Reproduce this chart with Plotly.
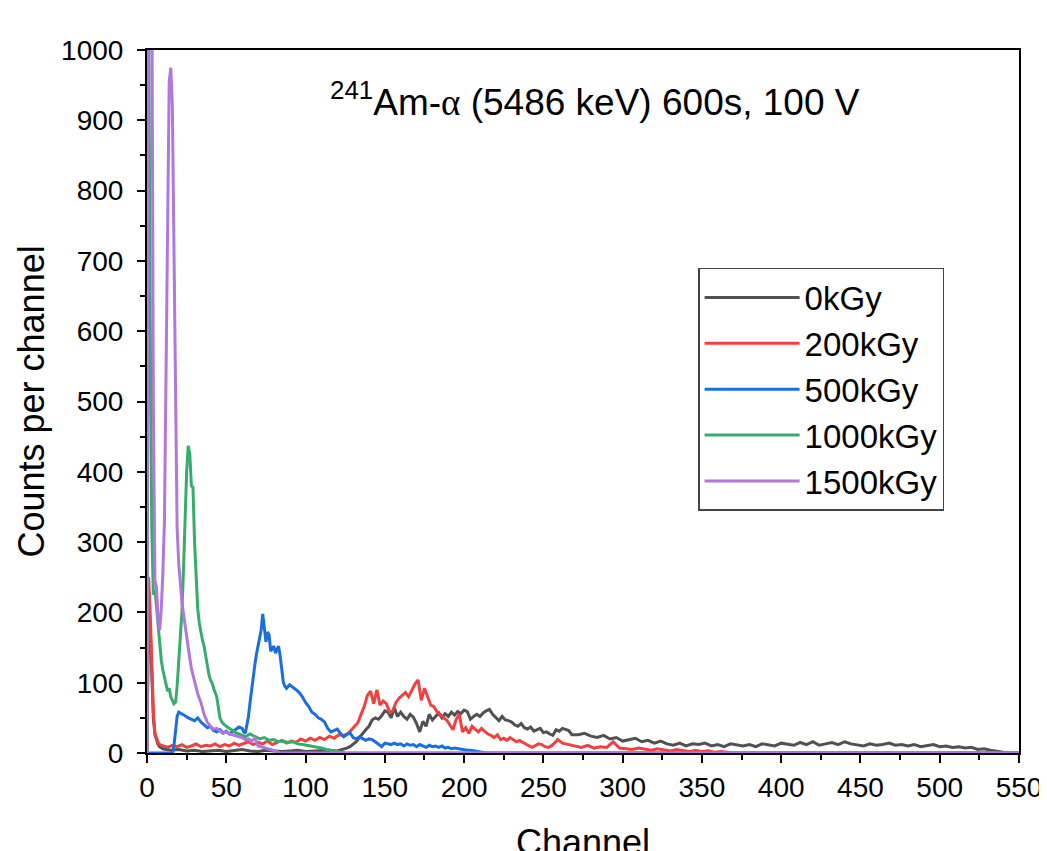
import plotly.graph_objects as go

# ---------------- data (channel segments: start, step, values) ----------------
gray_a = [0, 220, 180, 100, 50, 26, 17, 12, 9, 7]                       # ch 0..9
gray_b = [6, 4, 5, 3, 4, 2, 3, 4, 2, 3, 5, 3, 2, 4, 3, 2, 3, 4, 2, 3, 3, 4]  # ch 10..115 step 5
gray_c = [3, 4, 5, 7, 9, 12, 16, 22, 28, 33, 38, 47, 50, 48, 53, 60, 58, 50, 64, 52,
          58, 52, 48, 55, 51, 42, 30, 45, 38, 55, 47, 52, 57, 50, 56, 52, 58, 54, 59, 56,
          61, 59, 48, 52, 55, 52, 57, 60, 62, 55, 50, 46, 52, 47, 46, 44, 40, 38, 42, 36,
          34, 37, 31, 33, 35, 29, 30, 27, 25, 33, 31, 35, 34, 32, 26]      # ch 120.. step 2
gray_d = [26, 28, 24, 22, 25, 20, 22, 17, 19, 21, 16, 18, 14, 17, 13, 11, 14, 10, 13, 12,
          14, 10, 12, 9, 13, 11, 10, 12, 9, 13, 11, 10, 14, 12, 11, 15, 12, 16, 11, 13,
          15, 12, 16, 13, 11, 10, 13, 11, 12, 14, 11, 12, 10, 12, 9, 11, 12, 9, 10, 8,
          9, 7, 8, 5, 6, 4, 2, 1, 0, 0]                                   # ch 272.. step 4

red_a = [0, 250, 200, 120, 60, 28, 20, 15, 12, 11]                        # ch 0..9
red_b = [10, 8, 11, 9, 12, 8, 10, 13, 9, 11, 10, 13, 9, 12, 10, 14, 11, 13, 16, 12,
         15, 13, 17, 12, 15, 18, 14, 17, 15, 20, 17, 21, 18, 22, 19, 24, 21, 26, 25]  # ch 10.. step 3
red_c = [28, 33, 38, 43, 55, 66, 82, 88, 70, 90, 68, 74, 70, 58, 60, 72, 78, 82, 86, 80,
         90, 98, 104, 75, 92, 80, 68, 66, 58, 55, 50, 47, 40, 33, 48, 55, 30, 36, 28, 38,
         34, 30, 35, 31, 27, 25, 22, 26, 19, 21, 18, 22, 19, 16, 18, 15, 12, 10, 8, 11,
         13, 12, 9, 8, 10, 14, 19]                                        # ch 127.. step 2
red_d = [14, 12, 10, 8, 11, 7, 9, 8, 16, 7, 6, 5, 7, 5, 4, 6, 4, 3, 5, 3,
         2, 4, 2, 3, 1, 2, 1, 0]                                          # ch 262.. step 4

blue_a = [0, 0, 0]                                                        # ch 0, 8, 16
blue_b = [10, 35, 52, 58]                                                 # ch 17..20
blue_c = [56, 53, 50, 48, 46, 50, 44, 40, 36, 38, 32, 30, 33, 28, 31, 27, 30, 33, 37, 35]  # ch 22..60 step 2
blue_d = [30, 28, 38, 52, 72, 92, 110, 125, 140, 152, 160, 175, 198, 180, 158, 172, 168,
          145, 148, 152, 142, 146, 152, 138, 115, 100, 95]                # ch 61..87
blue_e = [92, 97, 94, 90, 86, 80, 72, 66, 58, 55, 50, 48, 44, 35, 30, 32, 34, 28, 23, 26,
          29, 22, 20, 23, 21, 18, 20, 19, 16, 12, 9, 14, 13, 12, 14, 12, 13, 10, 13, 11,
          12, 9, 12, 10, 8, 11, 9, 10, 8, 10, 7, 8, 6, 7, 6, 5, 5, 4, 4, 3,
          2, 1, 1, 0, 0]                                                  # ch 88.. step 2

green_a = [0, 1100, 620, 320, 225, 232, 208, 178, 150, 132, 118, 106, 98, 88, 92, 80,
           74, 70, 72, 95, 130, 170, 200, 260, 330, 400, 437, 425, 380, 378, 300, 240,
           205, 185, 170, 160, 152, 138, 125, 112, 104, 100, 92, 85, 80, 65, 50, 45, 42]  # ch 0..48
green_b = [38, 33, 29, 26, 23, 27, 24, 20, 22, 18, 19, 16, 17, 15, 16, 13, 12, 11, 10, 8,
           7, 5, 4, 2, 1, 0]                                              # ch 50.. step 3

purple_a = [0, 1600, 1800, 1200, 500, 245, 235, 190, 175, 205, 255, 330, 520, 790, 955,
            975, 920, 720, 480, 320, 270, 240, 215, 198, 180]             # ch 0..24
purple_b = [150, 120, 100, 84, 72, 55, 44, 38, 34, 35, 31, 28, 30, 27, 26, 24, 23, 22, 19,
            20, 17, 21, 10, 9, 7, 6, 5, 4, 2, 0]                          # ch 26.. step 2

end_channel = 550

series_names = ["0kGy", "200kGy", "500kGy", "1000kGy", "1500kGy"]
series_colors = ["#515151", "#F14040", "#1A6FDF", "#37AD6B", "#B177DE"]


def build(segments, tail=True):
    xs, ys = [], []
    for start, step, vals in segments:
        for i, v in enumerate(vals):
            xs.append(start + step * i)
            ys.append(v)
    if tail and xs[-1] < end_channel:
        xs.append(end_channel)
        ys.append(0)
    return xs, ys


series = [
    build([(0, 1, gray_a), (10, 5, gray_b), (120, 2, gray_c), (272, 4, gray_d)]),
    build([(0, 1, red_a), (10, 3, red_b), (127, 2, red_c), (262, 4, red_d)]),
    build([(0, 8, blue_a), (17, 1, blue_b), (22, 2, blue_c), (61, 1, blue_d), (88, 2, blue_e)]),
    build([(0, 1, green_a), (50, 3, green_b)]),
    build([(0, 1, purple_a), (26, 2, purple_b)]),
]

FONT = "Liberation Sans, Arial, sans-serif"

fig = go.Figure()
for (xs, ys), name, color in zip(series, series_names, series_colors):
    fig.add_trace(go.Scatter(x=xs, y=ys, mode="lines", name=name,
                             line=dict(color=color, width=3)))

axis_common = dict(
    showgrid=False, zeroline=False, showline=True, mirror=True,
    linecolor="black", linewidth=2, automargin=False,
    ticks="outside", ticklen=8, tickwidth=2, tickcolor="black",
    tickfont=dict(family=FONT, size=28, color="black"),
    layer="below traces",
)

# the page body adds an 8px offset, so the figure is 8px smaller than the window
fig.update_layout(
    width=1039, height=843,
    margin=dict(l=139, r=28, t=42, b=98, autoexpand=False),
    paper_bgcolor="white", plot_bgcolor="white",
    font=dict(family=FONT, color="black"),
    showlegend=True,
    legend=dict(
        x=0.632, y=0.690, xanchor="left", yanchor="top",
        bordercolor="#444444", borderwidth=1.5, bgcolor="white",
        font=dict(family=FONT, size=33, color="black"),
        itemwidth=95, tracegroupgap=0,
    ),
    xaxis=dict(range=[0, 550], dtick=50, tick0=0,
               minor=dict(dtick=25, ticklen=5, tickwidth=2, tickcolor="black", ticks="outside"),
               **axis_common),
    yaxis=dict(range=[0, 1000], dtick=100, tick0=0, ticklabelstandoff=8,
               minor=dict(dtick=50, ticklen=5, tickwidth=2, tickcolor="black", ticks="outside"),
               **axis_common),
    annotations=[
        dict(text="<sup>241</sup>Am-<span style=\"font-family:Liberation Serif\">α</span> (5486 keV) 600s, 100 V",
             xref="paper", yref="paper", x=0.514, y=0.93, xanchor="center", yanchor="middle",
             showarrow=False, font=dict(family=FONT, size=37, color="black")),
        dict(text="Counts per channel", xref="paper", yref="paper", x=-0.133, y=0.5,
             xanchor="center", yanchor="middle", textangle=-90, showarrow=False,
             font=dict(family=FONT, size=36, color="black")),
        dict(text="Channel", xref="paper", yref="paper", x=0.5, y=-0.095,
             xanchor="center", yanchor="top", showarrow=False,
             font=dict(family=FONT, size=36, color="black")),
    ],
)

fig.write_html("out.html")
